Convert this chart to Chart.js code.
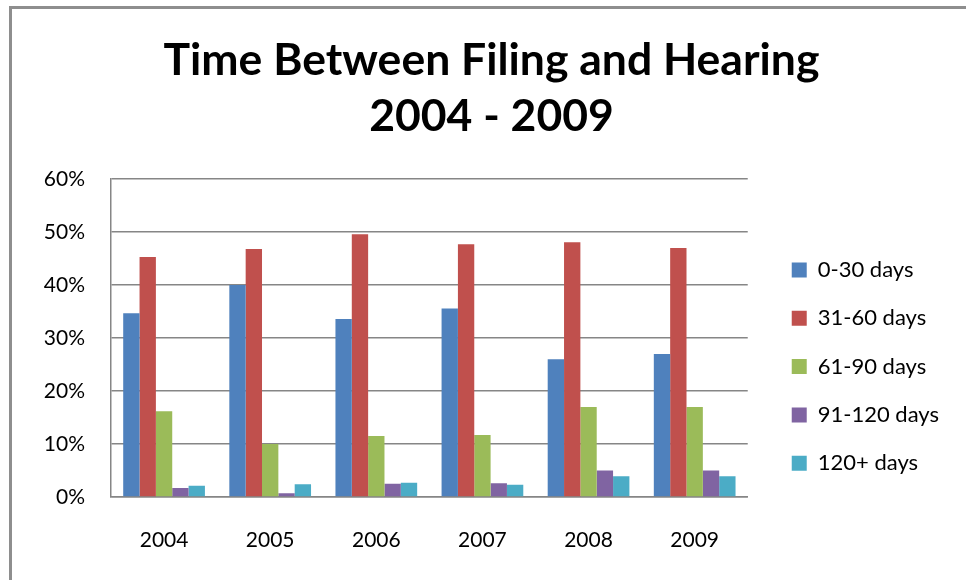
<!DOCTYPE html>
<html>
<head>
<meta charset="utf-8">
<title>Time Between Filing and Hearing</title>
<script src="https://cdn.jsdelivr.net/npm/chart.js@4.4.0/dist/chart.umd.min.js"></script>
<style>
  body { margin: 0; background: #fff; }
  #wrap { position: relative; width: 966px; height: 580px; overflow: hidden; }
  #frame { position: absolute; left: 9px; top: 6px; width: 1000px; height: 600px;
           border-top: 3px solid #8e8e8e; border-left: 3px solid #8e8e8e; }
  canvas { position: absolute; left: 0; top: 0; }
</style>
</head>
<body>
<div id="wrap">
  <div id="frame"></div>
  <canvas id="filingChart" width="966" height="580"></canvas>
</div>
<script>
// values, in percent
var years = ['2004', '2005', '2006', '2007', '2008', '2009'];
var days0to30 = [34.7, 40.0, 33.6, 35.6, 26.0, 27.0];
var days31to60 = [45.3, 46.8, 49.6, 47.7, 48.1, 47.0];
var days61to90 = [16.2, 10.0, 11.5, 11.7, 17.0, 17.0];
var days91to120 = [1.7, 0.7, 2.5, 2.6, 5.0, 5.0];
var days120plus = [2.1, 2.4, 2.7, 2.3, 3.9, 3.9];
var yTicks = [0, 10, 20, 30, 40, 50, 60];

Chart.defaults.font.family = 'Lato, "Open Sans", sans-serif';
Chart.defaults.color = '#000';

var legendFont = 22;
var legendPad = 48.3 - legendFont;   // row pitch of the legend
var padLeft = 34, padRight = 17;

function bars(label, values, color) {
    return {
        label: label,
        data: values,
        backgroundColor: color,
        borderWidth: 0,
        categoryPercentage: 0.77,
        barPercentage: 1.0
    };
}

function drawChart() {
    var ctx = document.getElementById('filingChart').getContext('2d');
    return new Chart(ctx, {
        type: 'bar',
        data: {
            labels: years,
            datasets: [
                bars('0-30 days', days0to30, '#4F81BD'),
                bars('31-60 days', days31to60, '#C0504D'),
                bars('61-90 days', days61to90, '#9BBB59'),
                bars('91-120 days', days91to120, '#8064A2'),
                bars('120+ days', days120plus, '#4BACC6')
            ]
        },
        options: {
            responsive: false,
            animation: false,
            layout: {
                padding: { left: padLeft, right: padRight, top: 0, bottom: 25 }
            },
            plugins: {
                title: {
                    display: true,
                    text: ['Time Between Filing and Hearing', '2004 - 2009'],
                    color: '#000',
                    font: { size: 44.5, weight: 'bold', lineHeight: 1.26 },
                    padding: { top: 33, bottom: 34 }
                },
                legend: {
                    position: 'right',
                    align: 'start',
                    // empty title only pushes the entries down
                    title: { display: true, text: '', padding: { top: 218.3, bottom: 0 } },
                    labels: {
                        boxWidth: 15,
                        boxHeight: 15,
                        padding: legendPad,
                        color: '#000',
                        font: { size: legendFont }
                    }
                },
                tooltip: { enabled: false }
            },
            scales: {
                x: {
                    afterFit: function(scale) { scale.height = 58; },
                    grid: { display: false },
                    border: { display: true, color: '#868686', width: 1.5 },
                    ticks: { padding: 19, font: { size: 21, lineHeight: 1.5 } }
                },
                y: {
                    min: 0,
                    max: 60,
                    afterFit: function(scale) { scale.width = 111 - padLeft; },
                    afterBuildTicks: function(axis) {
                        axis.ticks = yTicks.map(function(v) { return { value: v }; });
                    },
                    grid: { color: '#868686', lineWidth: 1.4, drawTicks: false },
                    border: { display: true, color: '#868686', width: 1.5 },
                    ticks: {
                        padding: 26,
                        font: { size: 21 },
                        callback: function(value) { return value + '%'; }
                    }
                },
                // hidden axis, only keeps the gap between plot and legend
                gap: {
                    type: 'linear',
                    position: 'right',
                    display: false,
                    afterFit: function(scale) { scale.width = 44 - legendPad; }
                }
            }
        }
    });
}

Promise.all([
    document.fonts.load('bold 44px Lato'),
    document.fonts.load('22px Lato')
]).then(drawChart, drawChart);
</script>
</body>
</html>
